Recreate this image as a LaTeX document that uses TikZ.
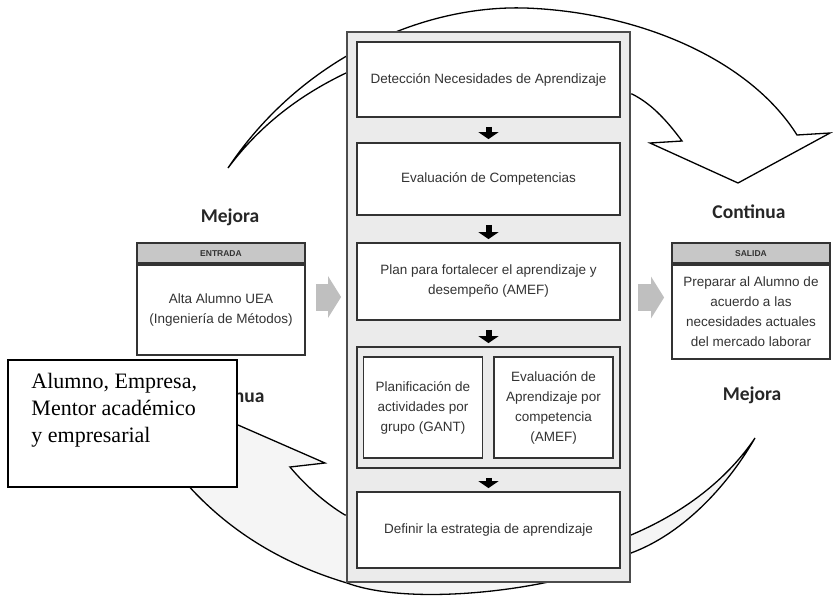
\documentclass[tikz,border=0pt]{standalone}
\usepackage{fontspec}
\setmainfont{Liberation Sans}
\newfontfamily\notafont{Liberation Serif}
\newfontfamily\rotulofont{Carlito}
\usetikzlibrary{arrows.meta}

\tikzset{
  marco/.style={draw=black!70, line width=1.8pt, fill=black!8,
    minimum width=283pt, minimum height=550pt},
  paso/.style={draw=black!80, line width=1.8pt, fill=white, text=black!80,
    minimum width=263pt, align=center, inner sep=2pt,
    font=\fontsize{13.5}{20}\selectfont},
  subpaso/.style={paso, minimum width=119pt, minimum height=101pt},
  caja/.style={paso, minimum height=90pt},
  cabecera/.style={draw=black!80, line width=1.8pt, fill=black!22, text=black!80,
    minimum height=20pt, inner sep=0pt, font=\fontsize{8.5}{9}\selectfont\bfseries},
  bajada/.style={line width=6pt, -{Triangle[width=20pt,length=7pt]},
    shorten <=9pt, shorten >=3pt},
  lateral/.style={black!25, line width=27pt, -{Triangle[width=41pt,length=13pt]}},
  banda/.style={draw=black, line width=1.3pt, line join=miter},
  rotulo/.style={font=\rotulofont\fontsize{19.5}{22}\selectfont\bfseries, text=black!85},
  nota/.style={draw=black, line width=1.5pt, fill=white,
    minimum width=229pt, minimum height=127pt},
  notatexto/.style={align=left, inner sep=0pt, font=\notafont\fontsize{22}{27}\selectfont}
}

\begin{document}
\begin{tikzpicture}[x=1pt,y=-1pt]
\useasboundingbox (0,0) rectangle (833,598);

% flechas del ciclo
\draw[banda, fill=white] (228,168) .. controls (300,60) and (420,5) .. (525,8)
  .. controls (640,12) and (750,60) .. (797,135) -- (830,133) -- (738,183)
  -- (650,143) -- (682,141) .. controls (665,118) and (650,103) .. (632,94)
  -- (346,73) .. controls (300,95) and (260,125) .. (228,168) -- cycle;
\draw[banda, fill=black!4] (755,438) .. controls (725,490) and (680,535) .. (631,553)
  .. controls (585,585) and (420,610) .. (347,583)
  .. controls (270,560) and (215,520) .. (175,470) -- (148,472) -- (222,418)
  -- (325,463) -- (290,467) .. controls (305,485) and (325,503) .. (345,515)
  -- (631,535) .. controls (690,510) and (730,475) .. (755,438) -- cycle;

% proceso central
\node[marco] (marco) at (488.5,307) {};
\node[paso, minimum height=75pt] (deteccion) at (488.5,79.5) {Detección Necesidades de Aprendizaje};
\node[paso, minimum height=72pt] (evaluacion) at (488.5,179) {Evaluación de Competencias};
\node[paso, minimum height=77pt] (plan) at (488.5,281.5) {Plan para fortalecer el aprendizaje y\\desempeño (AMEF)};
\node[paso, fill=black!8, minimum height=121pt] (grupo) at (488.5,407.5) {};
\node[subpaso] (planificacion) at (423,407.5) {Planificación de\\actividades por\\grupo (GANT)};
\node[subpaso] (aprendizaje) at (553.5,407.5) {Evaluación de\\Aprendizaje por\\competencia\\(AMEF)};
\node[paso, minimum height=76pt] (definir) at (488.5,530) {Definir la estrategia de aprendizaje};

\foreach \a/\b in {deteccion/evaluacion, evaluacion/plan, plan/grupo, grupo/definir}
  \draw[bajada] (\a) -- (\b);

% entrada y salida
\node[caja, minimum width=168pt] (entrada) at (221,310) {Alta Alumno UEA\\(Ingeniería de Métodos)};
\node[cabecera, minimum width=168pt, anchor=south] (entradacab) at (entrada.north) {ENTRADA};
\node[caja, minimum width=158pt, minimum height=94pt] (salida) at (751,312) {Preparar al Alumno de\\acuerdo a las\\necesidades actuales\\del mercado laborar};
\node[cabecera, minimum width=158pt, anchor=south] (salidacab) at (salida.north) {SALIDA};

\coordinate (entradaflecha) at ([yshift=13pt]entrada.east);
\coordinate (salidaflecha) at ([yshift=14.5pt]salida.west);
\draw[lateral, shorten <=10pt, shorten >=5pt] (entradaflecha) -- (entradaflecha -| marco.west);
\draw[lateral, shorten <=7pt, shorten >=7pt] (salidaflecha -| marco.east) -- (salidaflecha);

% rotulos
\node[rotulo] (mejoraizq) at (230,217) {Mejora};
\node[rotulo] (continuader) at (749,212) {Continua};
\node[rotulo] (mejorader) at (752,395) {Mejora};
\node[rotulo] (continuaizq) at (228,396) {Continua};

% nota
\node[nota] (nota) at (122.5,423.5) {};
\node[notatexto, anchor=north west] (notatxt) at ([xshift=24pt,yshift=-14pt]nota.north west) {Alumno, Empresa,\\Mentor académico\\y empresarial};
\end{tikzpicture}
\end{document}
